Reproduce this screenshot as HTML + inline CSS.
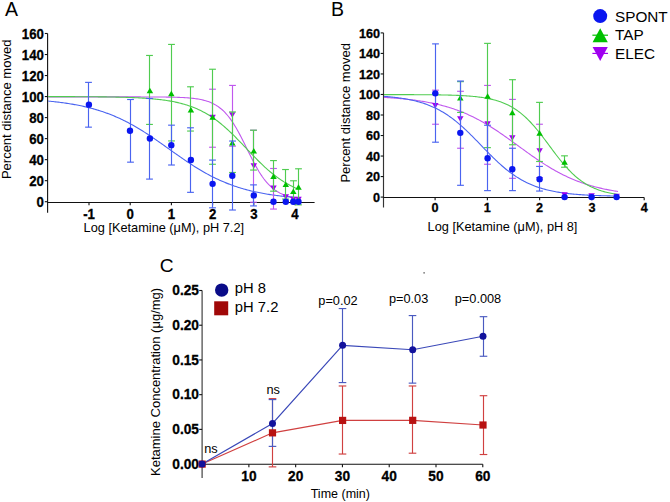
<!DOCTYPE html>
<html><head><meta charset="utf-8"><style>
html,body{margin:0;padding:0;background:#fff;}
svg{display:block;}
text{font-family:"Liberation Sans",sans-serif;fill:#000;}
</style></head><body>
<svg width="670" height="502" viewBox="0 0 670 502">
<rect width="670" height="502" fill="#fff"/>
<text x="4.90" y="15.50" font-size="19.5" text-anchor="start" font-weight="normal" >A</text>
<line x1="47.60" y1="33.50" x2="47.60" y2="212.80" stroke="#111" stroke-width="1.1"/>
<line x1="47.60" y1="202.45" x2="314.60" y2="202.45" stroke="#111" stroke-width="1.1"/>
<line x1="44.80" y1="201.70" x2="47.60" y2="201.70" stroke="#111" stroke-width="1.1"/>
<text transform="translate(43.90,206.80) scale(0.93,1)" font-size="14.2" text-anchor="end" font-weight="bold" stroke="#000" stroke-width="0.3">0</text>
<line x1="44.80" y1="180.67" x2="47.60" y2="180.67" stroke="#111" stroke-width="1.1"/>
<text transform="translate(43.90,185.77) scale(0.93,1)" font-size="14.2" text-anchor="end" font-weight="bold" stroke="#000" stroke-width="0.3">20</text>
<line x1="44.80" y1="159.65" x2="47.60" y2="159.65" stroke="#111" stroke-width="1.1"/>
<text transform="translate(43.90,164.75) scale(0.93,1)" font-size="14.2" text-anchor="end" font-weight="bold" stroke="#000" stroke-width="0.3">40</text>
<line x1="44.80" y1="138.62" x2="47.60" y2="138.62" stroke="#111" stroke-width="1.1"/>
<text transform="translate(43.90,143.72) scale(0.93,1)" font-size="14.2" text-anchor="end" font-weight="bold" stroke="#000" stroke-width="0.3">60</text>
<line x1="44.80" y1="117.60" x2="47.60" y2="117.60" stroke="#111" stroke-width="1.1"/>
<text transform="translate(43.90,122.70) scale(0.93,1)" font-size="14.2" text-anchor="end" font-weight="bold" stroke="#000" stroke-width="0.3">80</text>
<line x1="44.80" y1="96.57" x2="47.60" y2="96.57" stroke="#111" stroke-width="1.1"/>
<text transform="translate(43.90,101.67) scale(0.93,1)" font-size="14.2" text-anchor="end" font-weight="bold" stroke="#000" stroke-width="0.3">100</text>
<line x1="44.80" y1="75.54" x2="47.60" y2="75.54" stroke="#111" stroke-width="1.1"/>
<text transform="translate(43.90,80.64) scale(0.93,1)" font-size="14.2" text-anchor="end" font-weight="bold" stroke="#000" stroke-width="0.3">120</text>
<line x1="44.80" y1="54.52" x2="47.60" y2="54.52" stroke="#111" stroke-width="1.1"/>
<text transform="translate(43.90,59.62) scale(0.93,1)" font-size="14.2" text-anchor="end" font-weight="bold" stroke="#000" stroke-width="0.3">140</text>
<line x1="44.80" y1="33.49" x2="47.60" y2="33.49" stroke="#111" stroke-width="1.1"/>
<text transform="translate(43.90,38.59) scale(0.93,1)" font-size="14.2" text-anchor="end" font-weight="bold" stroke="#000" stroke-width="0.3">160</text>
<line x1="89.00" y1="202.45" x2="89.00" y2="205.20" stroke="#111" stroke-width="1.1"/>
<text transform="translate(89.00,218.90) scale(0.93,1)" font-size="14.2" text-anchor="middle" font-weight="bold" stroke="#000" stroke-width="0.3">-1</text>
<line x1="130.20" y1="202.45" x2="130.20" y2="205.20" stroke="#111" stroke-width="1.1"/>
<text transform="translate(130.20,218.90) scale(0.93,1)" font-size="14.2" text-anchor="middle" font-weight="bold" stroke="#000" stroke-width="0.3">0</text>
<line x1="171.40" y1="202.45" x2="171.40" y2="205.20" stroke="#111" stroke-width="1.1"/>
<text transform="translate(171.40,218.90) scale(0.93,1)" font-size="14.2" text-anchor="middle" font-weight="bold" stroke="#000" stroke-width="0.3">1</text>
<line x1="212.60" y1="202.45" x2="212.60" y2="205.20" stroke="#111" stroke-width="1.1"/>
<text transform="translate(212.60,218.90) scale(0.93,1)" font-size="14.2" text-anchor="middle" font-weight="bold" stroke="#000" stroke-width="0.3">2</text>
<line x1="253.80" y1="202.45" x2="253.80" y2="205.20" stroke="#111" stroke-width="1.1"/>
<text transform="translate(253.80,218.90) scale(0.93,1)" font-size="14.2" text-anchor="middle" font-weight="bold" stroke="#000" stroke-width="0.3">3</text>
<line x1="295.00" y1="202.45" x2="295.00" y2="205.20" stroke="#111" stroke-width="1.1"/>
<text transform="translate(295.00,218.90) scale(0.93,1)" font-size="14.2" text-anchor="middle" font-weight="bold" stroke="#000" stroke-width="0.3">4</text>
<text x="83.60" y="232.00" font-size="12.75" text-anchor="start" font-weight="normal" >Log [Ketamine (μM), pH 7.2]</text>
<text transform="translate(10.8,179.1) rotate(-90)" font-size="13">Percent distance moved</text>
<polyline points="48.10,96.90 49.36,96.90 50.62,96.90 51.88,96.90 53.15,96.90 54.41,96.90 55.67,96.90 56.93,96.90 58.19,96.90 59.45,96.90 60.71,96.90 61.98,96.90 63.24,96.90 64.50,96.90 65.76,96.90 67.02,96.90 68.28,96.90 69.54,96.90 70.81,96.90 72.07,96.90 73.33,96.90 74.59,96.90 75.85,96.90 77.11,96.90 78.37,96.90 79.64,96.90 80.90,96.90 82.16,96.90 83.42,96.90 84.68,96.90 85.94,96.90 87.20,96.90 88.47,96.90 89.73,96.90 90.99,96.90 92.25,96.90 93.51,96.90 94.77,96.90 96.03,96.90 97.29,96.90 98.56,96.90 99.82,96.90 101.08,96.90 102.34,96.90 103.60,96.90 104.86,96.90 106.12,96.90 107.39,96.90 108.65,96.90 109.91,96.90 111.17,96.90 112.43,96.90 113.69,96.90 114.95,96.91 116.22,96.91 117.48,96.91 118.74,96.91 120.00,96.91 121.26,96.91 122.52,96.91 123.78,96.91 125.05,96.91 126.31,96.91 127.57,96.91 128.83,96.91 130.09,96.91 131.35,96.91 132.61,96.91 133.88,96.92 135.14,96.92 136.40,96.92 137.66,96.92 138.92,96.92 140.18,96.92 141.44,96.93 142.71,96.93 143.97,96.93 145.23,96.94 146.49,96.94 147.75,96.94 149.01,96.95 150.27,96.95 151.54,96.96 152.80,96.96 154.06,96.97 155.32,96.98 156.58,96.98 157.84,96.99 159.10,97.00 160.37,97.01 161.63,97.02 162.89,97.04 164.15,97.05 165.41,97.07 166.67,97.08 167.93,97.10 169.20,97.12 170.46,97.15 171.72,97.17 172.98,97.20 174.24,97.23 175.50,97.27 176.76,97.31 178.02,97.35 179.29,97.40 180.55,97.45 181.81,97.50 183.07,97.57 184.33,97.64 185.59,97.71 186.85,97.80 188.12,97.89 189.38,97.99 190.64,98.10 191.90,98.23 193.16,98.36 194.42,98.52 195.68,98.68 196.95,98.87 198.21,99.07 199.47,99.29 200.73,99.53 201.99,99.80 203.25,100.10 204.51,100.42 205.78,100.77 207.04,101.16 208.30,101.59 209.56,102.06 210.82,102.57 212.08,103.13 213.34,103.74 214.61,104.40 215.87,105.13 217.13,105.91 218.39,106.77 219.65,107.70 220.91,108.70 222.17,109.78 223.44,110.95 224.70,112.20 225.96,113.55 227.22,114.99 228.48,116.52 229.74,118.16 231.00,119.89 232.27,121.72 233.53,123.65 234.79,125.67 236.05,127.79 237.31,129.99 238.57,132.27 239.83,134.62 241.10,137.04 242.36,139.51 243.62,142.03 244.88,144.57 246.14,147.14 247.40,149.71 248.66,152.27 249.93,154.82 251.19,157.34 252.45,159.81 253.71,162.23 254.97,164.58 256.23,166.87 257.49,169.07 258.75,171.19 260.02,173.22 261.28,175.15 262.54,176.98 263.80,178.72 265.06,180.36 266.32,181.90 267.58,183.34 268.85,184.69 270.11,185.95 271.37,187.12 272.63,188.21 273.89,189.21 275.15,190.14 276.41,191.00 277.68,191.79 278.94,192.52 280.20,193.18 281.46,193.79 282.72,194.35 283.98,194.87 285.24,195.34 286.51,195.76 287.77,196.16 289.03,196.51 290.29,196.84 291.55,197.13 292.81,197.40 294.07,197.65 295.34,197.87 296.60,198.07 297.86,198.26 299.12,198.42" fill="none" stroke="#c058ee" stroke-width="1.1"/>
<polyline points="48.10,96.61 49.36,96.61 50.62,96.61 51.88,96.61 53.15,96.62 54.41,96.62 55.67,96.62 56.93,96.62 58.19,96.63 59.45,96.63 60.71,96.63 61.98,96.63 63.24,96.64 64.50,96.64 65.76,96.64 67.02,96.65 68.28,96.65 69.54,96.65 70.81,96.66 72.07,96.66 73.33,96.67 74.59,96.67 75.85,96.68 77.11,96.68 78.37,96.69 79.64,96.69 80.90,96.70 82.16,96.71 83.42,96.71 84.68,96.72 85.94,96.73 87.20,96.74 88.47,96.75 89.73,96.75 90.99,96.76 92.25,96.77 93.51,96.78 94.77,96.80 96.03,96.81 97.29,96.82 98.56,96.83 99.82,96.84 101.08,96.86 102.34,96.87 103.60,96.89 104.86,96.91 106.12,96.92 107.39,96.94 108.65,96.96 109.91,96.98 111.17,97.00 112.43,97.02 113.69,97.05 114.95,97.07 116.22,97.10 117.48,97.12 118.74,97.15 120.00,97.18 121.26,97.22 122.52,97.25 123.78,97.28 125.05,97.32 126.31,97.36 127.57,97.40 128.83,97.44 130.09,97.49 131.35,97.54 132.61,97.59 133.88,97.64 135.14,97.69 136.40,97.75 137.66,97.81 138.92,97.88 140.18,97.95 141.44,98.02 142.71,98.09 143.97,98.17 145.23,98.25 146.49,98.34 147.75,98.43 149.01,98.53 150.27,98.63 151.54,98.73 152.80,98.84 154.06,98.96 155.32,99.08 156.58,99.21 157.84,99.34 159.10,99.49 160.37,99.63 161.63,99.79 162.89,99.95 164.15,100.12 165.41,100.30 166.67,100.49 167.93,100.69 169.20,100.90 170.46,101.12 171.72,101.34 172.98,101.58 174.24,101.83 175.50,102.09 176.76,102.37 178.02,102.65 179.29,102.95 180.55,103.27 181.81,103.60 183.07,103.94 184.33,104.30 185.59,104.67 186.85,105.06 188.12,105.47 189.38,105.90 190.64,106.34 191.90,106.80 193.16,107.29 194.42,107.79 195.68,108.31 196.95,108.86 198.21,109.42 199.47,110.01 200.73,110.62 201.99,111.25 203.25,111.91 204.51,112.59 205.78,113.30 207.04,114.03 208.30,114.79 209.56,115.57 210.82,116.38 212.08,117.21 213.34,118.07 214.61,118.96 215.87,119.87 217.13,120.81 218.39,121.78 219.65,122.77 220.91,123.79 222.17,124.83 223.44,125.89 224.70,126.98 225.96,128.10 227.22,129.23 228.48,130.39 229.74,131.57 231.00,132.77 232.27,133.99 233.53,135.22 234.79,136.47 236.05,137.74 237.31,139.02 238.57,140.31 239.83,141.61 241.10,142.92 242.36,144.24 243.62,145.56 244.88,146.89 246.14,148.22 247.40,149.55 248.66,150.88 249.93,152.20 251.19,153.52 252.45,154.84 253.71,156.14 254.97,157.44 256.23,158.72 257.49,160.00 258.75,161.25 260.02,162.49 261.28,163.72 262.54,164.92 263.80,166.11 265.06,167.28 266.32,168.42 267.58,169.54 268.85,170.64 270.11,171.72 271.37,172.77 272.63,173.80 273.89,174.80 275.15,175.77 276.41,176.72 277.68,177.64 278.94,178.54 280.20,179.41 281.46,180.26 282.72,181.07 283.98,181.87 285.24,182.63 286.51,183.37 287.77,184.09 289.03,184.78 290.29,185.45 291.55,186.09 292.81,186.71 294.07,187.31 295.34,187.88 296.60,188.44 297.86,188.97 299.12,189.48" fill="none" stroke="#50cc50" stroke-width="1.1"/>
<polyline points="48.10,101.07 49.36,101.19 50.62,101.31 51.88,101.44 53.15,101.57 54.41,101.71 55.67,101.85 56.93,102.00 58.19,102.14 59.45,102.30 60.71,102.46 61.98,102.62 63.24,102.79 64.50,102.97 65.76,103.15 67.02,103.34 68.28,103.53 69.54,103.73 70.81,103.93 72.07,104.14 73.33,104.36 74.59,104.59 75.85,104.82 77.11,105.06 78.37,105.30 79.64,105.55 80.90,105.81 82.16,106.08 83.42,106.36 84.68,106.64 85.94,106.94 87.20,107.24 88.47,107.55 89.73,107.87 90.99,108.19 92.25,108.53 93.51,108.88 94.77,109.23 96.03,109.60 97.29,109.98 98.56,110.36 99.82,110.76 101.08,111.17 102.34,111.58 103.60,112.01 104.86,112.45 106.12,112.90 107.39,113.36 108.65,113.83 109.91,114.32 111.17,114.81 112.43,115.32 113.69,115.84 114.95,116.37 116.22,116.91 117.48,117.47 118.74,118.03 120.00,118.61 121.26,119.20 122.52,119.81 123.78,120.42 125.05,121.05 126.31,121.69 127.57,122.34 128.83,123.00 130.09,123.68 131.35,124.36 132.61,125.06 133.88,125.77 135.14,126.49 136.40,127.22 137.66,127.97 138.92,128.72 140.18,129.49 141.44,130.26 142.71,131.04 143.97,131.84 145.23,132.64 146.49,133.45 147.75,134.28 149.01,135.11 150.27,135.94 151.54,136.79 152.80,137.64 154.06,138.50 155.32,139.36 156.58,140.23 157.84,141.11 159.10,141.99 160.37,142.87 161.63,143.76 162.89,144.65 164.15,145.55 165.41,146.44 166.67,147.34 167.93,148.24 169.20,149.14 170.46,150.04 171.72,150.94 172.98,151.83 174.24,152.73 175.50,153.62 176.76,154.52 178.02,155.40 179.29,156.29 180.55,157.17 181.81,158.04 183.07,158.91 184.33,159.77 185.59,160.63 186.85,161.48 188.12,162.32 189.38,163.16 190.64,163.99 191.90,164.81 193.16,165.62 194.42,166.42 195.68,167.21 196.95,167.99 198.21,168.76 199.47,169.53 200.73,170.28 201.99,171.02 203.25,171.75 204.51,172.47 205.78,173.17 207.04,173.87 208.30,174.55 209.56,175.22 210.82,175.89 212.08,176.53 213.34,177.17 214.61,177.79 215.87,178.41 217.13,179.01 218.39,179.60 219.65,180.17 220.91,180.74 222.17,181.29 223.44,181.83 224.70,182.35 225.96,182.87 227.22,183.38 228.48,183.87 229.74,184.35 231.00,184.82 232.27,185.28 233.53,185.73 234.79,186.16 236.05,186.59 237.31,187.00 238.57,187.41 239.83,187.80 241.10,188.18 242.36,188.56 243.62,188.92 244.88,189.28 246.14,189.62 247.40,189.96 248.66,190.28 249.93,190.60 251.19,190.91 252.45,191.21 253.71,191.50 254.97,191.78 256.23,192.05 257.49,192.32 258.75,192.58 260.02,192.83 261.28,193.07 262.54,193.31 263.80,193.54 265.06,193.76 266.32,193.98 267.58,194.19 268.85,194.39 270.11,194.59 271.37,194.78 272.63,194.97 273.89,195.15 275.15,195.32 276.41,195.49 277.68,195.65 278.94,195.81 280.20,195.96 281.46,196.11 282.72,196.26 283.98,196.40 285.24,196.53 286.51,196.66 287.77,196.79 289.03,196.91 290.29,197.03 291.55,197.14 292.81,197.26 294.07,197.36 295.34,197.47 296.60,197.57 297.86,197.66 299.12,197.76" fill="none" stroke="#4a64f0" stroke-width="1.1"/>
<line x1="212.50" y1="89.21" x2="212.50" y2="147.24" stroke="#c058ee" stroke-width="1.15"/>
<line x1="209.10" y1="89.21" x2="215.90" y2="89.21" stroke="#c058ee" stroke-width="1.15"/>
<line x1="209.10" y1="147.24" x2="215.90" y2="147.24" stroke="#c058ee" stroke-width="1.15"/>
<line x1="232.50" y1="85.43" x2="232.50" y2="146.19" stroke="#c058ee" stroke-width="1.15"/>
<line x1="229.10" y1="85.43" x2="235.90" y2="85.43" stroke="#c058ee" stroke-width="1.15"/>
<line x1="229.10" y1="146.19" x2="235.90" y2="146.19" stroke="#c058ee" stroke-width="1.15"/>
<line x1="253.50" y1="130.21" x2="253.50" y2="202.23" stroke="#c058ee" stroke-width="1.15"/>
<line x1="250.10" y1="130.21" x2="256.90" y2="130.21" stroke="#c058ee" stroke-width="1.15"/>
<line x1="250.10" y1="202.23" x2="256.90" y2="202.23" stroke="#c058ee" stroke-width="1.15"/>
<line x1="273.50" y1="168.48" x2="273.50" y2="209.06" stroke="#c058ee" stroke-width="1.15"/>
<line x1="270.10" y1="168.48" x2="276.90" y2="168.48" stroke="#c058ee" stroke-width="1.15"/>
<line x1="270.10" y1="209.06" x2="276.90" y2="209.06" stroke="#c058ee" stroke-width="1.15"/>
<path d="M209.35,114.85 L215.85,114.85 L212.60,120.35Z" fill="#a000f0"/>
<path d="M229.05,112.32 L235.55,112.32 L232.30,117.82Z" fill="#a000f0"/>
<path d="M250.55,163.31 L257.05,163.31 L253.80,168.81Z" fill="#a000f0"/>
<path d="M270.25,185.49 L276.75,185.49 L273.50,190.99Z" fill="#a000f0"/>
<path d="M282.55,194.32 L289.05,194.32 L285.80,199.82Z" fill="#a000f0"/>
<path d="M290.05,196.85 L296.55,196.85 L293.30,202.35Z" fill="#a000f0"/>
<path d="M295.25,196.85 L301.75,196.85 L298.50,202.35Z" fill="#a000f0"/>
<line x1="149.50" y1="55.46" x2="149.50" y2="124.43" stroke="#50cc50" stroke-width="1.15"/>
<line x1="146.10" y1="55.46" x2="152.90" y2="55.46" stroke="#50cc50" stroke-width="1.15"/>
<line x1="146.10" y1="124.43" x2="152.90" y2="124.43" stroke="#50cc50" stroke-width="1.15"/>
<line x1="171.50" y1="44.43" x2="171.50" y2="140.93" stroke="#50cc50" stroke-width="1.15"/>
<line x1="168.10" y1="44.43" x2="174.90" y2="44.43" stroke="#50cc50" stroke-width="1.15"/>
<line x1="168.10" y1="140.93" x2="174.90" y2="140.93" stroke="#50cc50" stroke-width="1.15"/>
<line x1="190.50" y1="86.79" x2="190.50" y2="131.05" stroke="#50cc50" stroke-width="1.15"/>
<line x1="187.10" y1="86.79" x2="193.90" y2="86.79" stroke="#50cc50" stroke-width="1.15"/>
<line x1="187.10" y1="131.05" x2="193.90" y2="131.05" stroke="#50cc50" stroke-width="1.15"/>
<line x1="212.50" y1="69.24" x2="212.50" y2="164.27" stroke="#50cc50" stroke-width="1.15"/>
<line x1="209.10" y1="69.24" x2="215.90" y2="69.24" stroke="#50cc50" stroke-width="1.15"/>
<line x1="209.10" y1="164.27" x2="215.90" y2="164.27" stroke="#50cc50" stroke-width="1.15"/>
<line x1="232.50" y1="111.92" x2="232.50" y2="172.47" stroke="#50cc50" stroke-width="1.15"/>
<line x1="229.10" y1="111.92" x2="235.90" y2="111.92" stroke="#50cc50" stroke-width="1.15"/>
<line x1="229.10" y1="172.47" x2="235.90" y2="172.47" stroke="#50cc50" stroke-width="1.15"/>
<line x1="253.50" y1="130.21" x2="253.50" y2="170.06" stroke="#50cc50" stroke-width="1.15"/>
<line x1="250.10" y1="130.21" x2="256.90" y2="130.21" stroke="#50cc50" stroke-width="1.15"/>
<line x1="250.10" y1="170.06" x2="256.90" y2="170.06" stroke="#50cc50" stroke-width="1.15"/>
<line x1="273.50" y1="160.59" x2="273.50" y2="191.19" stroke="#50cc50" stroke-width="1.15"/>
<line x1="270.10" y1="160.59" x2="276.90" y2="160.59" stroke="#50cc50" stroke-width="1.15"/>
<line x1="270.10" y1="191.19" x2="276.90" y2="191.19" stroke="#50cc50" stroke-width="1.15"/>
<line x1="285.50" y1="169.53" x2="285.50" y2="199.07" stroke="#50cc50" stroke-width="1.15"/>
<line x1="282.10" y1="169.53" x2="288.90" y2="169.53" stroke="#50cc50" stroke-width="1.15"/>
<line x1="282.10" y1="199.07" x2="288.90" y2="199.07" stroke="#50cc50" stroke-width="1.15"/>
<line x1="293.50" y1="180.78" x2="293.50" y2="201.17" stroke="#50cc50" stroke-width="1.15"/>
<line x1="290.10" y1="180.78" x2="296.90" y2="180.78" stroke="#50cc50" stroke-width="1.15"/>
<line x1="290.10" y1="201.17" x2="296.90" y2="201.17" stroke="#50cc50" stroke-width="1.15"/>
<line x1="298.50" y1="168.79" x2="298.50" y2="204.85" stroke="#50cc50" stroke-width="1.15"/>
<line x1="295.10" y1="168.79" x2="301.90" y2="168.79" stroke="#50cc50" stroke-width="1.15"/>
<line x1="295.10" y1="204.85" x2="301.90" y2="204.85" stroke="#50cc50" stroke-width="1.15"/>
<path d="M146.65,93.22 L153.15,93.22 L149.90,87.72Z" fill="#00c000"/>
<path d="M168.05,96.17 L174.55,96.17 L171.30,90.67Z" fill="#00c000"/>
<path d="M187.65,112.46 L194.15,112.46 L190.90,106.96Z" fill="#00c000"/>
<path d="M209.35,119.82 L215.85,119.82 L212.60,114.32Z" fill="#00c000"/>
<path d="M229.05,145.47 L235.55,145.47 L232.30,139.97Z" fill="#00c000"/>
<path d="M250.55,153.57 L257.05,153.57 L253.80,148.07Z" fill="#00c000"/>
<path d="M270.25,178.90 L276.75,178.90 L273.50,173.40Z" fill="#00c000"/>
<path d="M282.55,187.10 L289.05,187.10 L285.80,181.60Z" fill="#00c000"/>
<path d="M290.05,193.94 L296.55,193.94 L293.30,188.44Z" fill="#00c000"/>
<path d="M295.25,189.84 L301.75,189.84 L298.50,184.34Z" fill="#00c000"/>
<line x1="88.50" y1="82.38" x2="88.50" y2="127.16" stroke="#4a64f0" stroke-width="1.15"/>
<line x1="85.10" y1="82.38" x2="91.90" y2="82.38" stroke="#4a64f0" stroke-width="1.15"/>
<line x1="85.10" y1="127.16" x2="91.90" y2="127.16" stroke="#4a64f0" stroke-width="1.15"/>
<line x1="130.50" y1="99.51" x2="130.50" y2="162.17" stroke="#4a64f0" stroke-width="1.15"/>
<line x1="127.10" y1="99.51" x2="133.90" y2="99.51" stroke="#4a64f0" stroke-width="1.15"/>
<line x1="127.10" y1="162.17" x2="133.90" y2="162.17" stroke="#4a64f0" stroke-width="1.15"/>
<line x1="149.50" y1="98.46" x2="149.50" y2="179.10" stroke="#4a64f0" stroke-width="1.15"/>
<line x1="146.10" y1="98.46" x2="152.90" y2="98.46" stroke="#4a64f0" stroke-width="1.15"/>
<line x1="146.10" y1="179.10" x2="152.90" y2="179.10" stroke="#4a64f0" stroke-width="1.15"/>
<line x1="171.50" y1="125.17" x2="171.50" y2="165.01" stroke="#4a64f0" stroke-width="1.15"/>
<line x1="168.10" y1="125.17" x2="174.90" y2="125.17" stroke="#4a64f0" stroke-width="1.15"/>
<line x1="168.10" y1="165.01" x2="174.90" y2="165.01" stroke="#4a64f0" stroke-width="1.15"/>
<line x1="190.50" y1="127.79" x2="190.50" y2="192.34" stroke="#4a64f0" stroke-width="1.15"/>
<line x1="187.10" y1="127.79" x2="193.90" y2="127.79" stroke="#4a64f0" stroke-width="1.15"/>
<line x1="187.10" y1="192.34" x2="193.90" y2="192.34" stroke="#4a64f0" stroke-width="1.15"/>
<line x1="212.50" y1="160.07" x2="212.50" y2="207.80" stroke="#4a64f0" stroke-width="1.15"/>
<line x1="209.10" y1="160.07" x2="215.90" y2="160.07" stroke="#4a64f0" stroke-width="1.15"/>
<line x1="209.10" y1="207.80" x2="215.90" y2="207.80" stroke="#4a64f0" stroke-width="1.15"/>
<line x1="232.50" y1="141.04" x2="232.50" y2="210.01" stroke="#4a64f0" stroke-width="1.15"/>
<line x1="229.10" y1="141.04" x2="235.90" y2="141.04" stroke="#4a64f0" stroke-width="1.15"/>
<line x1="229.10" y1="210.01" x2="235.90" y2="210.01" stroke="#4a64f0" stroke-width="1.15"/>
<line x1="253.50" y1="184.88" x2="253.50" y2="205.91" stroke="#4a64f0" stroke-width="1.15"/>
<line x1="250.10" y1="184.88" x2="256.90" y2="184.88" stroke="#4a64f0" stroke-width="1.15"/>
<line x1="250.10" y1="205.91" x2="256.90" y2="205.91" stroke="#4a64f0" stroke-width="1.15"/>
<circle cx="88.90" cy="104.67" r="3.2" fill="#0a16f0"/>
<circle cx="130.00" cy="130.74" r="3.2" fill="#0a16f0"/>
<circle cx="149.90" cy="138.52" r="3.2" fill="#0a16f0"/>
<circle cx="171.30" cy="145.14" r="3.2" fill="#0a16f0"/>
<circle cx="190.90" cy="160.07" r="3.2" fill="#0a16f0"/>
<circle cx="212.60" cy="183.83" r="3.2" fill="#0a16f0"/>
<circle cx="232.30" cy="175.73" r="3.2" fill="#0a16f0"/>
<circle cx="253.80" cy="195.39" r="3.2" fill="#0a16f0"/>
<circle cx="273.50" cy="201.70" r="3.2" fill="#0a16f0"/>
<circle cx="285.80" cy="201.70" r="3.2" fill="#0a16f0"/>
<circle cx="293.30" cy="201.70" r="3.2" fill="#0a16f0"/>
<circle cx="298.50" cy="201.70" r="3.2" fill="#0a16f0"/>
<text x="331.10" y="15.80" font-size="19.5" text-anchor="start" font-weight="normal" >B</text>
<line x1="383.50" y1="32.90" x2="383.50" y2="207.50" stroke="#333" stroke-width="1.15"/>
<line x1="383.50" y1="197.50" x2="644.20" y2="197.50" stroke="#111" stroke-width="1.1"/>
<line x1="380.70" y1="197.10" x2="383.50" y2="197.10" stroke="#111" stroke-width="1.1"/>
<text transform="translate(380.10,201.70) scale(0.93,1)" font-size="13.6" text-anchor="end" font-weight="bold" stroke="#000" stroke-width="0.3">0</text>
<line x1="380.70" y1="176.57" x2="383.50" y2="176.57" stroke="#111" stroke-width="1.1"/>
<text transform="translate(380.10,181.17) scale(0.93,1)" font-size="13.6" text-anchor="end" font-weight="bold" stroke="#000" stroke-width="0.3">20</text>
<line x1="380.70" y1="156.05" x2="383.50" y2="156.05" stroke="#111" stroke-width="1.1"/>
<text transform="translate(380.10,160.65) scale(0.93,1)" font-size="13.6" text-anchor="end" font-weight="bold" stroke="#000" stroke-width="0.3">40</text>
<line x1="380.70" y1="135.52" x2="383.50" y2="135.52" stroke="#111" stroke-width="1.1"/>
<text transform="translate(380.10,140.12) scale(0.93,1)" font-size="13.6" text-anchor="end" font-weight="bold" stroke="#000" stroke-width="0.3">60</text>
<line x1="380.70" y1="115.00" x2="383.50" y2="115.00" stroke="#111" stroke-width="1.1"/>
<text transform="translate(380.10,119.60) scale(0.93,1)" font-size="13.6" text-anchor="end" font-weight="bold" stroke="#000" stroke-width="0.3">80</text>
<line x1="380.70" y1="94.47" x2="383.50" y2="94.47" stroke="#111" stroke-width="1.1"/>
<text transform="translate(380.10,99.07) scale(0.93,1)" font-size="13.6" text-anchor="end" font-weight="bold" stroke="#000" stroke-width="0.3">100</text>
<line x1="380.70" y1="73.95" x2="383.50" y2="73.95" stroke="#111" stroke-width="1.1"/>
<text transform="translate(380.10,78.55) scale(0.93,1)" font-size="13.6" text-anchor="end" font-weight="bold" stroke="#000" stroke-width="0.3">120</text>
<line x1="380.70" y1="53.42" x2="383.50" y2="53.42" stroke="#111" stroke-width="1.1"/>
<text transform="translate(380.10,58.02) scale(0.93,1)" font-size="13.6" text-anchor="end" font-weight="bold" stroke="#000" stroke-width="0.3">140</text>
<line x1="380.70" y1="32.90" x2="383.50" y2="32.90" stroke="#111" stroke-width="1.1"/>
<text transform="translate(380.10,37.50) scale(0.93,1)" font-size="13.6" text-anchor="end" font-weight="bold" stroke="#000" stroke-width="0.3">160</text>
<line x1="435.10" y1="197.50" x2="435.10" y2="200.30" stroke="#111" stroke-width="1.1"/>
<text transform="translate(435.10,212.20) scale(0.93,1)" font-size="13.6" text-anchor="middle" font-weight="bold" stroke="#000" stroke-width="0.3">0</text>
<line x1="487.37" y1="197.50" x2="487.37" y2="200.30" stroke="#111" stroke-width="1.1"/>
<text transform="translate(487.37,212.20) scale(0.93,1)" font-size="13.6" text-anchor="middle" font-weight="bold" stroke="#000" stroke-width="0.3">1</text>
<line x1="539.64" y1="197.50" x2="539.64" y2="200.30" stroke="#111" stroke-width="1.1"/>
<text transform="translate(539.64,212.20) scale(0.93,1)" font-size="13.6" text-anchor="middle" font-weight="bold" stroke="#000" stroke-width="0.3">2</text>
<line x1="591.91" y1="197.50" x2="591.91" y2="200.30" stroke="#111" stroke-width="1.1"/>
<text transform="translate(591.91,212.20) scale(0.93,1)" font-size="13.6" text-anchor="middle" font-weight="bold" stroke="#000" stroke-width="0.3">3</text>
<line x1="644.18" y1="197.50" x2="644.18" y2="200.30" stroke="#111" stroke-width="1.1"/>
<text transform="translate(644.18,212.20) scale(0.93,1)" font-size="13.6" text-anchor="middle" font-weight="bold" stroke="#000" stroke-width="0.3">4</text>
<text x="427.60" y="230.90" font-size="12.75" text-anchor="start" font-weight="normal" >Log [Ketamine (μM), pH 8]</text>
<text transform="translate(349.5,182.6) rotate(-90)" font-size="13">Percent distance moved</text>
<polyline points="384.00,97.37 385.18,97.44 386.35,97.51 387.53,97.59 388.70,97.67 389.88,97.75 391.06,97.83 392.23,97.92 393.41,98.00 394.58,98.09 395.76,98.19 396.94,98.29 398.11,98.39 399.29,98.49 400.47,98.60 401.64,98.71 402.82,98.82 403.99,98.94 405.17,99.06 406.35,99.18 407.52,99.31 408.70,99.44 409.87,99.58 411.05,99.72 412.23,99.87 413.40,100.02 414.58,100.17 415.75,100.33 416.93,100.50 418.11,100.67 419.28,100.84 420.46,101.02 421.64,101.21 422.81,101.40 423.99,101.60 425.16,101.80 426.34,102.01 427.52,102.23 428.69,102.45 429.87,102.68 431.04,102.91 432.22,103.15 433.40,103.40 434.57,103.66 435.75,103.92 436.92,104.19 438.10,104.47 439.28,104.75 440.45,105.05 441.63,105.35 442.81,105.66 443.98,105.98 445.16,106.31 446.33,106.64 447.51,106.99 448.69,107.34 449.86,107.71 451.04,108.08 452.21,108.46 453.39,108.85 454.57,109.25 455.74,109.67 456.92,110.09 458.09,110.52 459.27,110.96 460.45,111.42 461.62,111.88 462.80,112.35 463.98,112.84 465.15,113.33 466.33,113.84 467.50,114.36 468.68,114.89 469.86,115.43 471.03,115.98 472.21,116.54 473.38,117.11 474.56,117.69 475.74,118.29 476.91,118.90 478.09,119.51 479.26,120.14 480.44,120.78 481.62,121.43 482.79,122.09 483.97,122.76 485.15,123.45 486.32,124.14 487.50,124.84 488.67,125.55 489.85,126.27 491.03,127.01 492.20,127.75 493.38,128.50 494.55,129.26 495.73,130.02 496.91,130.80 498.08,131.58 499.26,132.38 500.43,133.17 501.61,133.98 502.79,134.79 503.96,135.61 505.14,136.43 506.31,137.26 507.49,138.10 508.67,138.94 509.84,139.78 511.02,140.63 512.20,141.48 513.37,142.33 514.55,143.18 515.72,144.04 516.90,144.89 518.08,145.75 519.25,146.61 520.43,147.47 521.60,148.32 522.78,149.18 523.96,150.03 525.13,150.89 526.31,151.74 527.48,152.58 528.66,153.42 529.84,154.26 531.01,155.10 532.19,155.93 533.37,156.75 534.54,157.57 535.72,158.38 536.89,159.18 538.07,159.98 539.25,160.77 540.42,161.56 541.60,162.33 542.77,163.10 543.95,163.86 545.13,164.61 546.30,165.35 547.48,166.08 548.65,166.80 549.83,167.51 551.01,168.21 552.18,168.91 553.36,169.59 554.54,170.26 555.71,170.92 556.89,171.57 558.06,172.21 559.24,172.83 560.42,173.45 561.59,174.06 562.77,174.65 563.94,175.23 565.12,175.81 566.30,176.37 567.47,176.92 568.65,177.46 569.82,177.98 571.00,178.50 572.18,179.01 573.35,179.50 574.53,179.99 575.71,180.46 576.88,180.92 578.06,181.37 579.23,181.82 580.41,182.25 581.59,182.67 582.76,183.08 583.94,183.48 585.11,183.87 586.29,184.25 587.47,184.63 588.64,184.99 589.82,185.34 590.99,185.69 592.17,186.02 593.35,186.35 594.52,186.67 595.70,186.98 596.88,187.28 598.05,187.57 599.23,187.86 600.40,188.14 601.58,188.41 602.76,188.67 603.93,188.92 605.11,189.17 606.28,189.41 607.46,189.65 608.64,189.88 609.81,190.10 610.99,190.31 612.16,190.52 613.34,190.72 614.52,190.92 615.69,191.11 616.87,191.30 618.05,191.48" fill="none" stroke="#c058ee" stroke-width="1.1"/>
<polyline points="384.00,94.61 385.18,94.61 386.35,94.61 387.53,94.61 388.70,94.61 389.88,94.62 391.06,94.62 392.23,94.62 393.41,94.62 394.58,94.62 395.76,94.62 396.94,94.63 398.11,94.63 399.29,94.63 400.47,94.63 401.64,94.63 402.82,94.64 403.99,94.64 405.17,94.64 406.35,94.65 407.52,94.65 408.70,94.65 409.87,94.66 411.05,94.66 412.23,94.67 413.40,94.67 414.58,94.68 415.75,94.68 416.93,94.69 418.11,94.69 419.28,94.70 420.46,94.71 421.64,94.71 422.81,94.72 423.99,94.73 425.16,94.74 426.34,94.75 427.52,94.76 428.69,94.77 429.87,94.78 431.04,94.79 432.22,94.81 433.40,94.82 434.57,94.83 435.75,94.85 436.92,94.87 438.10,94.88 439.28,94.90 440.45,94.92 441.63,94.94 442.81,94.96 443.98,94.99 445.16,95.01 446.33,95.04 447.51,95.07 448.69,95.10 449.86,95.13 451.04,95.16 452.21,95.20 453.39,95.24 454.57,95.28 455.74,95.32 456.92,95.37 458.09,95.42 459.27,95.47 460.45,95.53 461.62,95.59 462.80,95.65 463.98,95.72 465.15,95.79 466.33,95.86 467.50,95.94 468.68,96.03 469.86,96.12 471.03,96.22 472.21,96.32 473.38,96.43 474.56,96.54 475.74,96.66 476.91,96.79 478.09,96.93 479.26,97.08 480.44,97.23 481.62,97.40 482.79,97.57 483.97,97.75 485.15,97.95 486.32,98.16 487.50,98.37 488.67,98.61 489.85,98.85 491.03,99.11 492.20,99.39 493.38,99.68 494.55,99.99 495.73,100.31 496.91,100.66 498.08,101.02 499.26,101.40 500.43,101.81 501.61,102.23 502.79,102.68 503.96,103.16 505.14,103.65 506.31,104.18 507.49,104.73 508.67,105.31 509.84,105.92 511.02,106.56 512.20,107.23 513.37,107.93 514.55,108.67 515.72,109.44 516.90,110.24 518.08,111.08 519.25,111.95 520.43,112.86 521.60,113.81 522.78,114.80 523.96,115.82 525.13,116.88 526.31,117.98 527.48,119.12 528.66,120.29 529.84,121.50 531.01,122.75 532.19,124.03 533.37,125.35 534.54,126.70 535.72,128.08 536.89,129.49 538.07,130.93 539.25,132.39 540.42,133.88 541.60,135.39 542.77,136.92 543.95,138.47 545.13,140.03 546.30,141.60 547.48,143.18 548.65,144.76 549.83,146.35 551.01,147.94 552.18,149.52 553.36,151.09 554.54,152.66 555.71,154.21 556.89,155.75 558.06,157.27 559.24,158.76 560.42,160.24 561.59,161.69 562.77,163.11 563.94,164.50 565.12,165.86 566.30,167.19 567.47,168.49 568.65,169.75 569.82,170.97 571.00,172.16 572.18,173.31 573.35,174.42 574.53,175.50 575.71,176.54 576.88,177.54 578.06,178.50 579.23,179.42 580.41,180.31 581.59,181.17 582.76,181.98 583.94,182.76 585.11,183.51 586.29,184.23 587.47,184.91 588.64,185.56 589.82,186.18 590.99,186.77 592.17,187.33 593.35,187.87 594.52,188.38 595.70,188.86 596.88,189.32 598.05,189.75 599.23,190.17 600.40,190.56 601.58,190.93 602.76,191.28 603.93,191.61 605.11,191.92 606.28,192.22 607.46,192.50 608.64,192.77 609.81,193.02 610.99,193.26 612.16,193.48 613.34,193.69 614.52,193.89 615.69,194.08 616.87,194.26 618.05,194.43" fill="none" stroke="#50cc50" stroke-width="1.1"/>
<polyline points="384.00,96.33 385.18,96.43 386.35,96.52 387.53,96.62 388.70,96.73 389.88,96.84 391.06,96.96 392.23,97.08 393.41,97.20 394.58,97.34 395.76,97.48 396.94,97.62 398.11,97.77 399.29,97.93 400.47,98.10 401.64,98.27 402.82,98.45 403.99,98.64 405.17,98.84 406.35,99.05 407.52,99.26 408.70,99.49 409.87,99.72 411.05,99.97 412.23,100.23 413.40,100.49 414.58,100.77 415.75,101.06 416.93,101.37 418.11,101.68 419.28,102.01 420.46,102.36 421.64,102.72 422.81,103.09 423.99,103.48 425.16,103.88 426.34,104.30 427.52,104.73 428.69,105.18 429.87,105.65 431.04,106.14 432.22,106.65 433.40,107.17 434.57,107.72 435.75,108.28 436.92,108.86 438.10,109.47 439.28,110.09 440.45,110.74 441.63,111.40 442.81,112.09 443.98,112.80 445.16,113.54 446.33,114.29 447.51,115.07 448.69,115.87 449.86,116.69 451.04,117.53 452.21,118.40 453.39,119.29 454.57,120.20 455.74,121.14 456.92,122.09 458.09,123.07 459.27,124.06 460.45,125.08 461.62,126.12 462.80,127.17 463.98,128.24 465.15,129.34 466.33,130.44 467.50,131.57 468.68,132.70 469.86,133.86 471.03,135.02 472.21,136.20 473.38,137.38 474.56,138.58 475.74,139.78 476.91,140.99 478.09,142.20 479.26,143.42 480.44,144.64 481.62,145.86 482.79,147.08 483.97,148.30 485.15,149.52 486.32,150.73 487.50,151.93 488.67,153.13 489.85,154.32 491.03,155.50 492.20,156.66 493.38,157.82 494.55,158.96 495.73,160.09 496.91,161.20 498.08,162.30 499.26,163.38 500.43,164.44 501.61,165.48 502.79,166.50 503.96,167.50 505.14,168.49 506.31,169.45 507.49,170.39 508.67,171.30 509.84,172.20 511.02,173.07 512.20,173.92 513.37,174.75 514.55,175.56 515.72,176.34 516.90,177.10 518.08,177.84 519.25,178.56 520.43,179.26 521.60,179.93 522.78,180.58 523.96,181.21 525.13,181.82 526.31,182.41 527.48,182.98 528.66,183.53 529.84,184.06 531.01,184.57 532.19,185.06 533.37,185.54 534.54,186.00 535.72,186.44 536.89,186.86 538.07,187.27 539.25,187.66 540.42,188.04 541.60,188.40 542.77,188.75 543.95,189.08 545.13,189.40 546.30,189.71 547.48,190.00 548.65,190.29 549.83,190.56 551.01,190.82 552.18,191.07 553.36,191.30 554.54,191.53 555.71,191.75 556.89,191.96 558.06,192.16 559.24,192.35 560.42,192.54 561.59,192.71 562.77,192.88 563.94,193.04 565.12,193.20 566.30,193.34 567.47,193.48 568.65,193.62 569.82,193.75 571.00,193.87 572.18,193.99 573.35,194.10 574.53,194.21 575.71,194.31 576.88,194.41 578.06,194.50 579.23,194.59 580.41,194.67 581.59,194.75 582.76,194.83 583.94,194.91 585.11,194.98 586.29,195.04 587.47,195.11 588.64,195.17 589.82,195.23 590.99,195.29 592.17,195.34 593.35,195.39 594.52,195.44 595.70,195.48 596.88,195.53 598.05,195.57 599.23,195.61 600.40,195.65 601.58,195.69 602.76,195.72 603.93,195.76 605.11,195.79 606.28,195.82 607.46,195.85 608.64,195.87 609.81,195.90 610.99,195.93 612.16,195.95 613.34,195.97 614.52,195.99 615.69,196.02 616.87,196.03 618.05,196.05" fill="none" stroke="#4a64f0" stroke-width="1.1"/>
<line x1="435.50" y1="90.16" x2="435.50" y2="124.24" stroke="#c058ee" stroke-width="1.15"/>
<line x1="432.10" y1="90.16" x2="438.90" y2="90.16" stroke="#c058ee" stroke-width="1.15"/>
<line x1="432.10" y1="124.24" x2="438.90" y2="124.24" stroke="#c058ee" stroke-width="1.15"/>
<line x1="460.50" y1="91.29" x2="460.50" y2="148.25" stroke="#c058ee" stroke-width="1.15"/>
<line x1="457.10" y1="91.29" x2="463.90" y2="91.29" stroke="#c058ee" stroke-width="1.15"/>
<line x1="457.10" y1="148.25" x2="463.90" y2="148.25" stroke="#c058ee" stroke-width="1.15"/>
<line x1="487.50" y1="85.44" x2="487.50" y2="164.26" stroke="#c058ee" stroke-width="1.15"/>
<line x1="484.10" y1="85.44" x2="490.90" y2="85.44" stroke="#c058ee" stroke-width="1.15"/>
<line x1="484.10" y1="164.26" x2="490.90" y2="164.26" stroke="#c058ee" stroke-width="1.15"/>
<line x1="512.50" y1="99.40" x2="512.50" y2="178.32" stroke="#c058ee" stroke-width="1.15"/>
<line x1="509.10" y1="99.40" x2="515.90" y2="99.40" stroke="#c058ee" stroke-width="1.15"/>
<line x1="509.10" y1="178.32" x2="515.90" y2="178.32" stroke="#c058ee" stroke-width="1.15"/>
<line x1="539.50" y1="124.24" x2="539.50" y2="177.60" stroke="#c058ee" stroke-width="1.15"/>
<line x1="536.10" y1="124.24" x2="542.90" y2="124.24" stroke="#c058ee" stroke-width="1.15"/>
<line x1="536.10" y1="177.60" x2="542.90" y2="177.60" stroke="#c058ee" stroke-width="1.15"/>
<path d="M432.05,103.01 L438.55,103.01 L435.30,108.51Z" fill="#a000f0"/>
<path d="M457.05,116.35 L463.55,116.35 L460.30,121.85Z" fill="#a000f0"/>
<path d="M484.35,121.28 L490.85,121.28 L487.60,126.78Z" fill="#a000f0"/>
<path d="M509.05,135.24 L515.55,135.24 L512.30,140.74Z" fill="#a000f0"/>
<path d="M536.35,148.17 L542.85,148.17 L539.60,153.67Z" fill="#a000f0"/>
<path d="M561.35,192.30 L567.85,192.30 L564.60,197.80Z" fill="#a000f0"/>
<path d="M588.35,193.32 L594.85,193.32 L591.60,198.82Z" fill="#a000f0"/>
<path d="M613.35,193.84 L619.85,193.84 L616.60,199.34Z" fill="#a000f0"/>
<line x1="460.50" y1="81.65" x2="460.50" y2="112.43" stroke="#50cc50" stroke-width="1.15"/>
<line x1="457.10" y1="81.65" x2="463.90" y2="81.65" stroke="#50cc50" stroke-width="1.15"/>
<line x1="457.10" y1="112.43" x2="463.90" y2="112.43" stroke="#50cc50" stroke-width="1.15"/>
<line x1="487.50" y1="43.37" x2="487.50" y2="147.63" stroke="#50cc50" stroke-width="1.15"/>
<line x1="484.10" y1="43.37" x2="490.90" y2="43.37" stroke="#50cc50" stroke-width="1.15"/>
<line x1="484.10" y1="147.63" x2="490.90" y2="147.63" stroke="#50cc50" stroke-width="1.15"/>
<line x1="512.50" y1="79.70" x2="512.50" y2="144.76" stroke="#50cc50" stroke-width="1.15"/>
<line x1="509.10" y1="79.70" x2="515.90" y2="79.70" stroke="#50cc50" stroke-width="1.15"/>
<line x1="509.10" y1="144.76" x2="515.90" y2="144.76" stroke="#50cc50" stroke-width="1.15"/>
<line x1="539.50" y1="102.38" x2="539.50" y2="161.49" stroke="#50cc50" stroke-width="1.15"/>
<line x1="536.10" y1="102.38" x2="542.90" y2="102.38" stroke="#50cc50" stroke-width="1.15"/>
<line x1="536.10" y1="161.49" x2="542.90" y2="161.49" stroke="#50cc50" stroke-width="1.15"/>
<line x1="564.50" y1="155.84" x2="564.50" y2="167.24" stroke="#50cc50" stroke-width="1.15"/>
<line x1="561.10" y1="155.84" x2="567.90" y2="155.84" stroke="#50cc50" stroke-width="1.15"/>
<line x1="561.10" y1="167.24" x2="567.90" y2="167.24" stroke="#50cc50" stroke-width="1.15"/>
<path d="M457.05,100.41 L463.55,100.41 L460.30,94.91Z" fill="#00c000"/>
<path d="M484.35,98.66 L490.85,98.66 L487.60,93.16Z" fill="#00c000"/>
<path d="M509.05,115.18 L515.55,115.18 L512.30,109.68Z" fill="#00c000"/>
<path d="M536.35,135.71 L542.85,135.71 L539.60,130.21Z" fill="#00c000"/>
<path d="M561.35,164.85 L567.85,164.85 L564.60,159.35Z" fill="#00c000"/>
<line x1="435.50" y1="43.88" x2="435.50" y2="142.20" stroke="#4a64f0" stroke-width="1.15"/>
<line x1="432.10" y1="43.88" x2="438.90" y2="43.88" stroke="#4a64f0" stroke-width="1.15"/>
<line x1="432.10" y1="142.20" x2="438.90" y2="142.20" stroke="#4a64f0" stroke-width="1.15"/>
<line x1="460.50" y1="81.03" x2="460.50" y2="185.30" stroke="#4a64f0" stroke-width="1.15"/>
<line x1="457.10" y1="81.03" x2="463.90" y2="81.03" stroke="#4a64f0" stroke-width="1.15"/>
<line x1="457.10" y1="185.30" x2="463.90" y2="185.30" stroke="#4a64f0" stroke-width="1.15"/>
<line x1="487.50" y1="125.26" x2="487.50" y2="190.63" stroke="#4a64f0" stroke-width="1.15"/>
<line x1="484.10" y1="125.26" x2="490.90" y2="125.26" stroke="#4a64f0" stroke-width="1.15"/>
<line x1="484.10" y1="190.63" x2="490.90" y2="190.63" stroke="#4a64f0" stroke-width="1.15"/>
<line x1="512.50" y1="148.25" x2="512.50" y2="190.63" stroke="#4a64f0" stroke-width="1.15"/>
<line x1="509.10" y1="148.25" x2="515.90" y2="148.25" stroke="#4a64f0" stroke-width="1.15"/>
<line x1="509.10" y1="190.63" x2="515.90" y2="190.63" stroke="#4a64f0" stroke-width="1.15"/>
<line x1="539.50" y1="166.42" x2="539.50" y2="191.05" stroke="#4a64f0" stroke-width="1.15"/>
<line x1="536.10" y1="166.42" x2="542.90" y2="166.42" stroke="#4a64f0" stroke-width="1.15"/>
<line x1="536.10" y1="191.05" x2="542.90" y2="191.05" stroke="#4a64f0" stroke-width="1.15"/>
<circle cx="435.30" cy="93.35" r="3.2" fill="#0a16f0"/>
<circle cx="460.30" cy="132.86" r="3.2" fill="#0a16f0"/>
<circle cx="487.60" cy="158.21" r="3.2" fill="#0a16f0"/>
<circle cx="512.30" cy="169.29" r="3.2" fill="#0a16f0"/>
<circle cx="539.60" cy="179.14" r="3.2" fill="#0a16f0"/>
<circle cx="564.60" cy="197.10" r="3.2" fill="#0a16f0"/>
<circle cx="591.60" cy="197.10" r="3.2" fill="#0a16f0"/>
<circle cx="616.60" cy="197.10" r="3.2" fill="#0a16f0"/>
<circle cx="600.20" cy="16.10" r="7.0" fill="#0a16f0"/>
<text x="615.00" y="22.10" font-size="15.3" text-anchor="start" font-weight="normal" >SPONT</text>
<path d="M592.60,42.20 L607.80,42.20 L600.20,28.20Z" fill="#00c000"/>
<line x1="592.40" y1="35.20" x2="608.00" y2="35.20" stroke="#00c000" stroke-width="1.2"/>
<text x="615.00" y="40.20" font-size="15.3" text-anchor="start" font-weight="normal" >TAP</text>
<path d="M592.60,47.10 L607.80,47.10 L600.20,60.90Z" fill="#a000f0"/>
<line x1="592.40" y1="53.40" x2="608.00" y2="53.40" stroke="#a000f0" stroke-width="1.2"/>
<text x="615.00" y="58.60" font-size="15.3" text-anchor="start" font-weight="normal" >ELEC</text>
<text x="159.70" y="271.90" font-size="19.2" text-anchor="start" font-weight="normal" >C</text>
<line x1="202.10" y1="290.40" x2="202.10" y2="477.90" stroke="#3a3a3a" stroke-width="1.15"/>
<line x1="202.10" y1="464.30" x2="482.80" y2="464.30" stroke="#111" stroke-width="1.1"/>
<line x1="199.20" y1="464.10" x2="202.10" y2="464.10" stroke="#111" stroke-width="1.1"/>
<text transform="translate(199.00,468.80) scale(0.94,1)" font-size="14.6" text-anchor="end" font-weight="bold" stroke="#000" stroke-width="0.3">0.00</text>
<line x1="199.20" y1="429.38" x2="202.10" y2="429.38" stroke="#111" stroke-width="1.1"/>
<text transform="translate(199.00,434.08) scale(0.94,1)" font-size="14.6" text-anchor="end" font-weight="bold" stroke="#000" stroke-width="0.3">0.05</text>
<line x1="199.20" y1="394.66" x2="202.10" y2="394.66" stroke="#111" stroke-width="1.1"/>
<text transform="translate(199.00,399.36) scale(0.94,1)" font-size="14.6" text-anchor="end" font-weight="bold" stroke="#000" stroke-width="0.3">0.10</text>
<line x1="199.20" y1="359.94" x2="202.10" y2="359.94" stroke="#111" stroke-width="1.1"/>
<text transform="translate(199.00,364.64) scale(0.94,1)" font-size="14.6" text-anchor="end" font-weight="bold" stroke="#000" stroke-width="0.3">0.15</text>
<line x1="199.20" y1="325.22" x2="202.10" y2="325.22" stroke="#111" stroke-width="1.1"/>
<text transform="translate(199.00,329.92) scale(0.94,1)" font-size="14.6" text-anchor="end" font-weight="bold" stroke="#000" stroke-width="0.3">0.20</text>
<line x1="199.20" y1="290.50" x2="202.10" y2="290.50" stroke="#111" stroke-width="1.1"/>
<text transform="translate(199.00,295.20) scale(0.94,1)" font-size="14.6" text-anchor="end" font-weight="bold" stroke="#000" stroke-width="0.3">0.25</text>
<line x1="248.88" y1="464.30" x2="248.88" y2="467.20" stroke="#111" stroke-width="1.1"/>
<text transform="translate(248.88,480.60) scale(0.94,1)" font-size="14.6" text-anchor="middle" font-weight="bold" stroke="#000" stroke-width="0.3">10</text>
<line x1="295.66" y1="464.30" x2="295.66" y2="467.20" stroke="#111" stroke-width="1.1"/>
<text transform="translate(295.66,480.60) scale(0.94,1)" font-size="14.6" text-anchor="middle" font-weight="bold" stroke="#000" stroke-width="0.3">20</text>
<line x1="342.44" y1="464.30" x2="342.44" y2="467.20" stroke="#111" stroke-width="1.1"/>
<text transform="translate(342.44,480.60) scale(0.94,1)" font-size="14.6" text-anchor="middle" font-weight="bold" stroke="#000" stroke-width="0.3">30</text>
<line x1="389.22" y1="464.30" x2="389.22" y2="467.20" stroke="#111" stroke-width="1.1"/>
<text transform="translate(389.22,480.60) scale(0.94,1)" font-size="14.6" text-anchor="middle" font-weight="bold" stroke="#000" stroke-width="0.3">40</text>
<line x1="436.00" y1="464.30" x2="436.00" y2="467.20" stroke="#111" stroke-width="1.1"/>
<text transform="translate(436.00,480.60) scale(0.94,1)" font-size="14.6" text-anchor="middle" font-weight="bold" stroke="#000" stroke-width="0.3">50</text>
<line x1="482.78" y1="464.30" x2="482.78" y2="467.20" stroke="#111" stroke-width="1.1"/>
<text transform="translate(482.78,480.60) scale(0.94,1)" font-size="14.6" text-anchor="middle" font-weight="bold" stroke="#000" stroke-width="0.3">60</text>
<text x="310.70" y="497.80" font-size="12.5" text-anchor="start" font-weight="normal" >Time (min)</text>
<text transform="translate(160.4,476.0) rotate(-90)" font-size="13">Ketamine Concentration (μg/mg)</text>
<circle cx="221.70" cy="290.10" r="6.7" fill="#0a0c88"/>
<text x="234.80" y="293.20" font-size="14" text-anchor="start" font-weight="normal" transform="translate(234.8,0) scale(1.057,1) translate(-234.8,0)">pH 8</text>
<rect x="214.20" y="301.30" width="14" height="14" fill="#a00808"/>
<text x="234.80" y="311.90" font-size="14" text-anchor="start" font-weight="normal" transform="translate(234.8,0) scale(1.057,1) translate(-234.8,0)">pH 7.2</text>
<text x="338.00" y="305.20" font-size="12.75" text-anchor="middle" font-weight="normal" >p=0.02</text>
<text x="408.60" y="302.60" font-size="12.75" text-anchor="middle" font-weight="normal" >p=0.03</text>
<text x="478.00" y="302.60" font-size="12.75" text-anchor="middle" font-weight="normal" >p=0.008</text>
<text x="273.20" y="393.90" font-size="12.75" text-anchor="middle" font-weight="normal" >ns</text>
<text x="211.00" y="453.30" font-size="12.75" text-anchor="middle" font-weight="normal" >ns</text>
<polyline points="202.10,464.10 272.50,432.85 342.60,420.42 412.70,420.35 483.00,425.01" fill="none" stroke="#d04040" stroke-width="1.1"/>
<line x1="272.50" y1="398.62" x2="272.50" y2="466.88" stroke="#d04040" stroke-width="1.15"/>
<line x1="268.70" y1="398.62" x2="276.30" y2="398.62" stroke="#d04040" stroke-width="1.15"/>
<line x1="268.70" y1="466.88" x2="276.30" y2="466.88" stroke="#d04040" stroke-width="1.15"/>
<line x1="342.50" y1="385.98" x2="342.50" y2="454.03" stroke="#d04040" stroke-width="1.15"/>
<line x1="338.70" y1="385.98" x2="346.30" y2="385.98" stroke="#d04040" stroke-width="1.15"/>
<line x1="338.70" y1="454.03" x2="346.30" y2="454.03" stroke="#d04040" stroke-width="1.15"/>
<line x1="412.50" y1="385.98" x2="412.50" y2="453.20" stroke="#d04040" stroke-width="1.15"/>
<line x1="408.70" y1="385.98" x2="416.30" y2="385.98" stroke="#d04040" stroke-width="1.15"/>
<line x1="408.70" y1="453.20" x2="416.30" y2="453.20" stroke="#d04040" stroke-width="1.15"/>
<line x1="483.50" y1="395.70" x2="483.50" y2="454.52" stroke="#d04040" stroke-width="1.15"/>
<line x1="479.70" y1="395.70" x2="487.30" y2="395.70" stroke="#d04040" stroke-width="1.15"/>
<line x1="479.70" y1="454.52" x2="487.30" y2="454.52" stroke="#d04040" stroke-width="1.15"/>
<polyline points="202.10,464.10 272.50,423.48 342.60,345.36 412.70,349.80 483.00,336.33" fill="none" stroke="#3a48b8" stroke-width="1.1"/>
<line x1="272.50" y1="399.59" x2="272.50" y2="446.39" stroke="#4a5ac0" stroke-width="1.15"/>
<line x1="268.70" y1="399.59" x2="276.30" y2="399.59" stroke="#4a5ac0" stroke-width="1.15"/>
<line x1="268.70" y1="446.39" x2="276.30" y2="446.39" stroke="#4a5ac0" stroke-width="1.15"/>
<line x1="342.50" y1="308.55" x2="342.50" y2="382.58" stroke="#4a5ac0" stroke-width="1.15"/>
<line x1="338.70" y1="308.55" x2="346.30" y2="308.55" stroke="#4a5ac0" stroke-width="1.15"/>
<line x1="338.70" y1="382.58" x2="346.30" y2="382.58" stroke="#4a5ac0" stroke-width="1.15"/>
<line x1="412.50" y1="315.57" x2="412.50" y2="383.13" stroke="#4a5ac0" stroke-width="1.15"/>
<line x1="408.70" y1="315.57" x2="416.30" y2="315.57" stroke="#4a5ac0" stroke-width="1.15"/>
<line x1="408.70" y1="383.13" x2="416.30" y2="383.13" stroke="#4a5ac0" stroke-width="1.15"/>
<line x1="483.50" y1="316.68" x2="483.50" y2="356.26" stroke="#4a5ac0" stroke-width="1.15"/>
<line x1="479.70" y1="316.68" x2="487.30" y2="316.68" stroke="#4a5ac0" stroke-width="1.15"/>
<line x1="479.70" y1="356.26" x2="487.30" y2="356.26" stroke="#4a5ac0" stroke-width="1.15"/>
<rect x="198.50" y="460.50" width="7.2" height="7.2" fill="#b81212"/>
<rect x="268.90" y="429.25" width="7.2" height="7.2" fill="#b81212"/>
<rect x="339.00" y="416.82" width="7.2" height="7.2" fill="#b81212"/>
<rect x="409.10" y="416.75" width="7.2" height="7.2" fill="#b81212"/>
<rect x="479.40" y="421.41" width="7.2" height="7.2" fill="#b81212"/>
<circle cx="202.10" cy="464.10" r="3.5" fill="#12129c"/>
<circle cx="272.50" cy="423.48" r="3.5" fill="#12129c"/>
<circle cx="342.60" cy="345.36" r="3.5" fill="#12129c"/>
<circle cx="412.70" cy="349.80" r="3.5" fill="#12129c"/>
<circle cx="483.00" cy="336.33" r="3.5" fill="#12129c"/>
<circle cx="424.1" cy="272.8" r="0.9" fill="#777"/>
</svg></body></html>
